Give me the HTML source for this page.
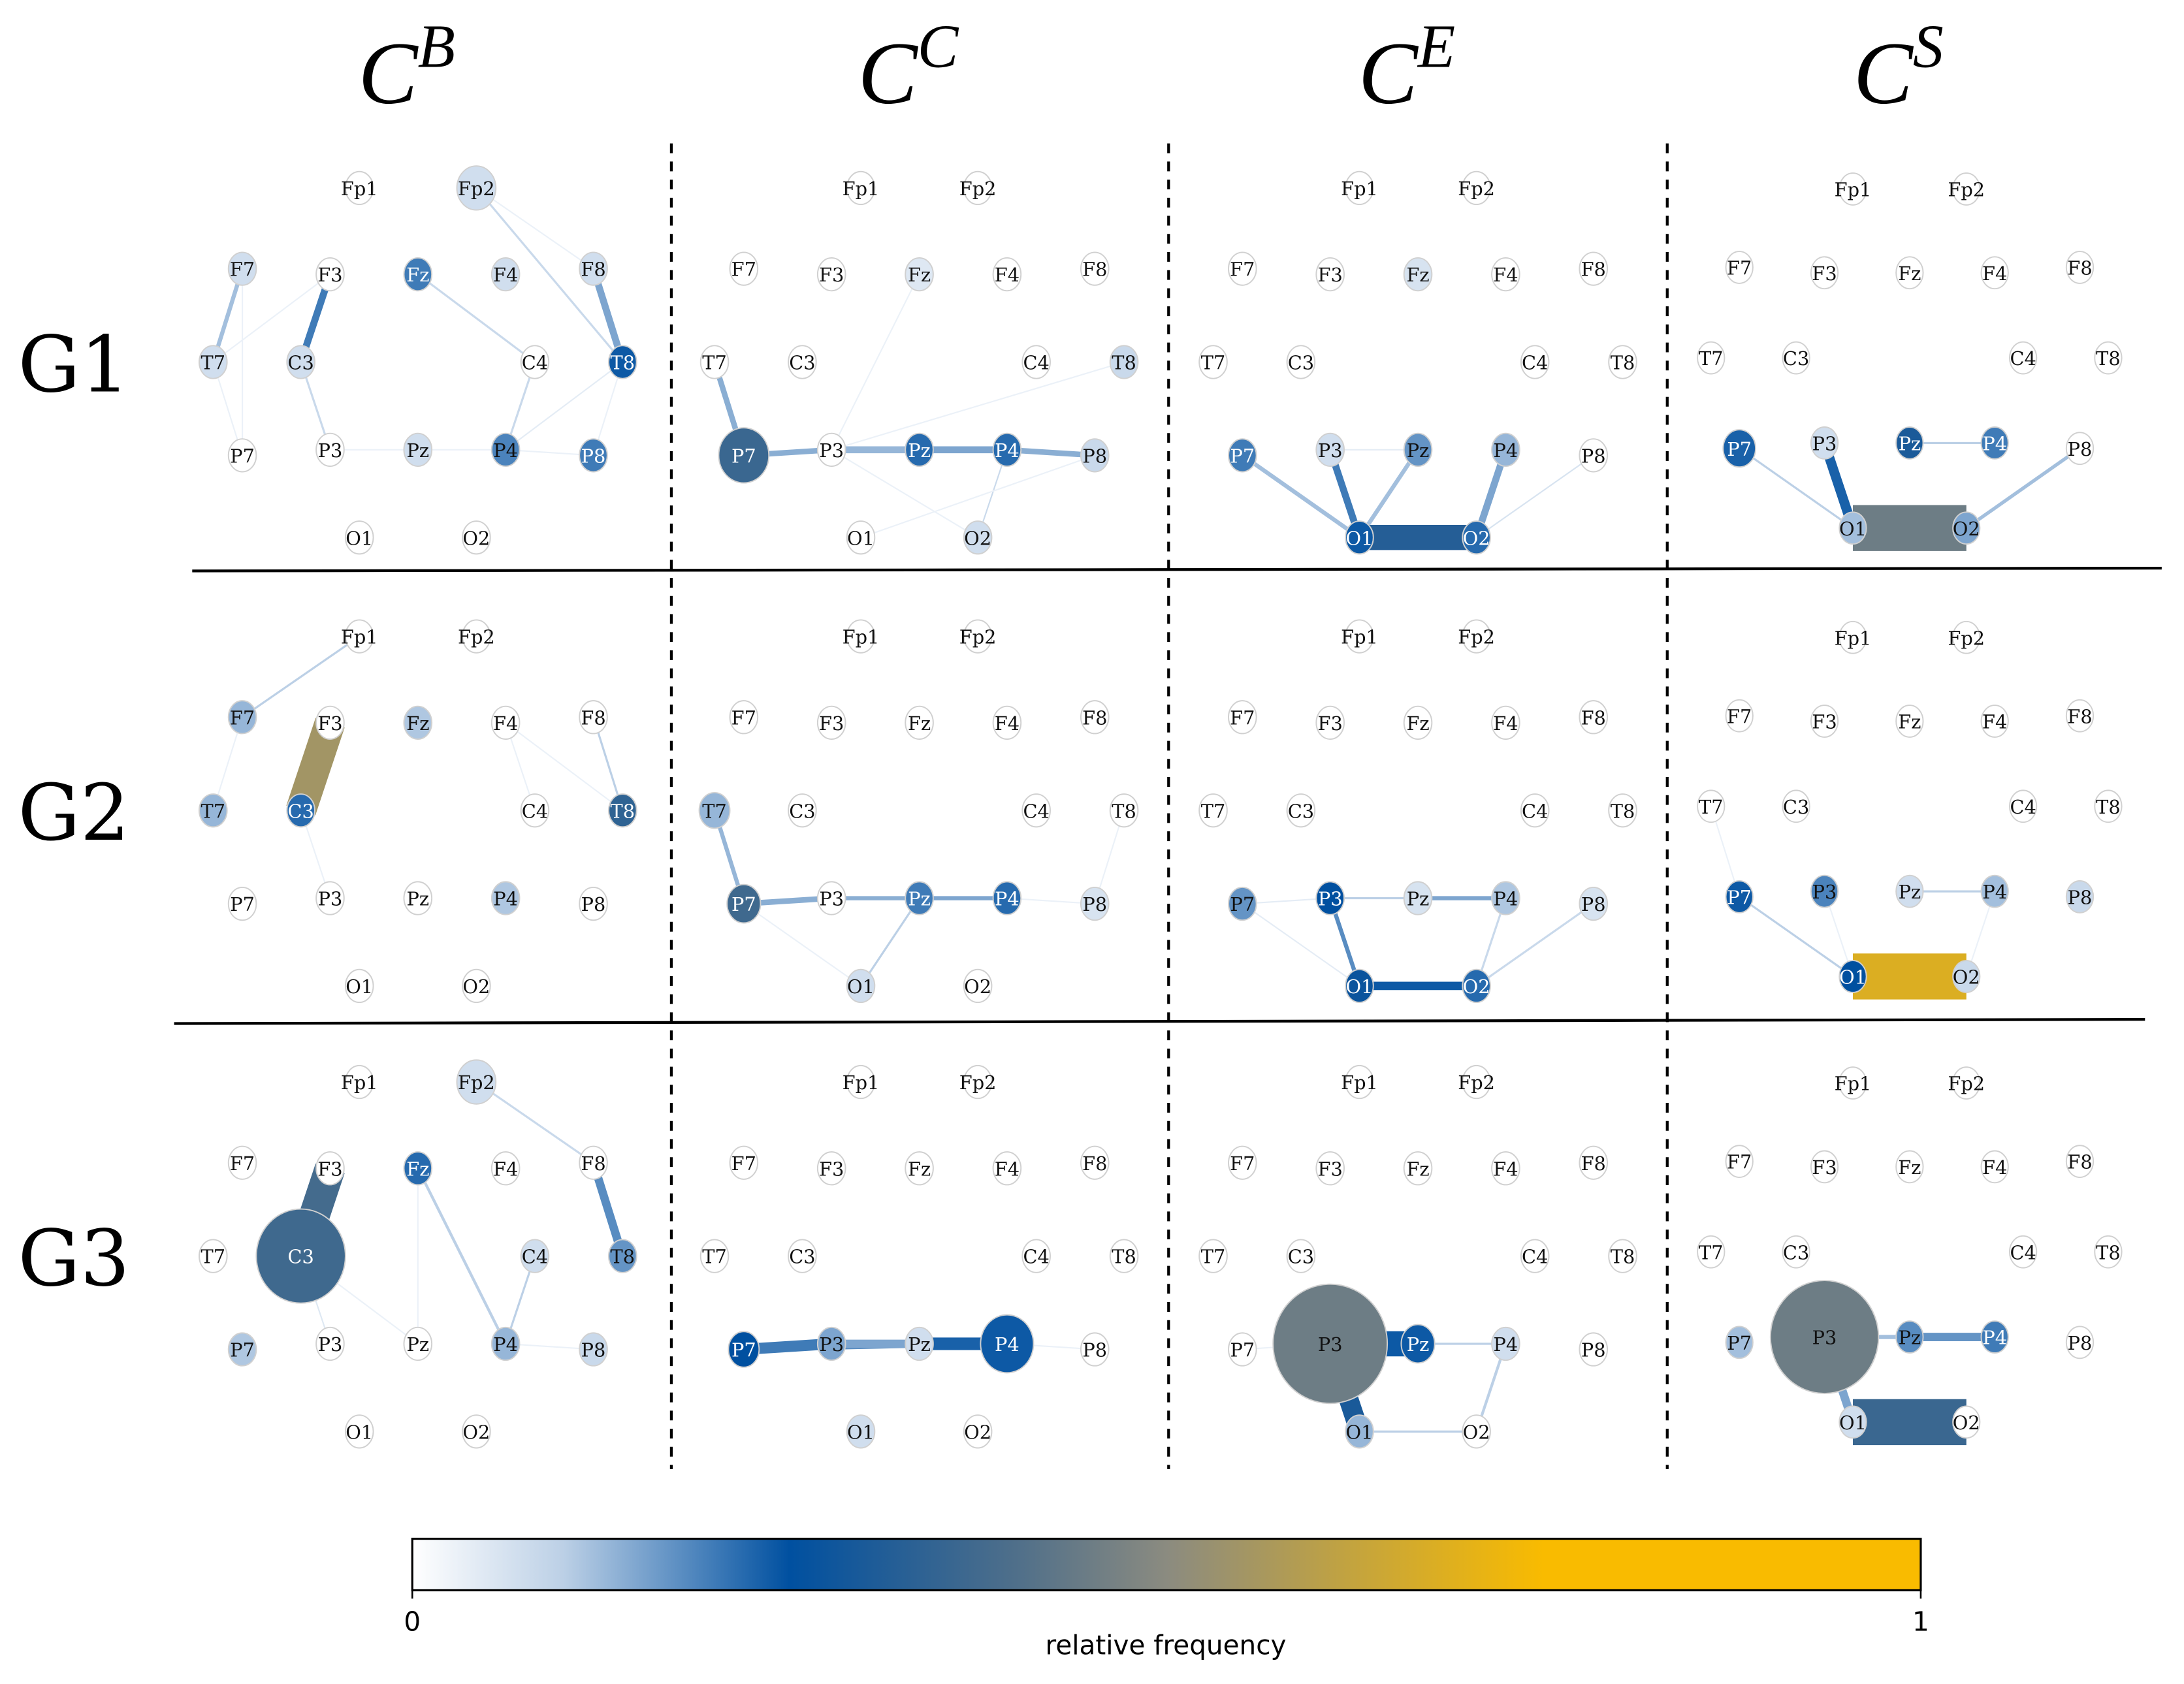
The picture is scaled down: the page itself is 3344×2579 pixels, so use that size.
<!DOCTYPE html>
<html><head><meta charset="utf-8">
<style>
html,body{margin:0;padding:0;background:#fff;}
svg{display:block;}
.nl{font-family:"DejaVu Serif","Liberation Serif",serif;font-size:13.5px;text-anchor:middle;dominant-baseline:central;}
</style></head>
<body>
<svg id="fig" width="3344" height="2579" viewBox="0 0 1568 1209.3" xmlns="http://www.w3.org/2000/svg">
<defs>
<linearGradient id="cmap" x1="0" x2="1" y1="0" y2="0">
<stop offset="0" stop-color="#ffffff"/>
<stop offset="0.1" stop-color="#bcd0e6"/>
<stop offset="0.25" stop-color="#0050a0"/>
<stop offset="0.4" stop-color="#4f6f8a"/>
<stop offset="0.5" stop-color="#8b8b80"/>
<stop offset="0.62" stop-color="#c2a340"/>
<stop offset="0.75" stop-color="#f9bb00"/>
<stop offset="1" stop-color="#f9bb00"/>
</linearGradient>
</defs>
<g id="grid"></g>
<g id="panels"></g>
<g id="cbar"></g>
</svg>
<script>
const NS="http://www.w3.org/2000/svg";
const electrodes=["Fp1","Fp2","F7","F3","Fz","F4","F8","T7","C3","C4","T8","P7","P3","Pz","P4","P8","O1","O2"];
const colTitles=["B","C","E","S"];
const rowTitles=["G1","G2","G3"];
const cbTicks=["0","1"];
const nodesG1B=[["Fp2",0.07,14],["F7",0.07,10],["Fz",0.2,10],["F4",0.07,10],["F8",0.07,10],["T7",0.07,10],["C3",0.07,10],["T8",0.24,10],["Pz",0.07,10],["P4",0.19,10],["P8",0.2,10]];
const nodesG1C=[["P7",0.36,18],["Pz",0.22,10],["P4",0.22,10],["P8",0.08,10],["O2",0.07,10],["T8",0.08,10],["Fz",0.05,10]];
const nodesG1E=[["P7",0.2,10],["P3",0.07,10],["Pz",0.17,10],["P4",0.13,10],["O1",0.24,10],["O2",0.22,10],["Fz",0.06,10]];
const nodesG1S=[["P7",0.23,12],["P3",0.07,10],["Pz",0.3,10],["P4",0.2,10],["O1",0.12,10],["O2",0.15,10]];
const nodesG2B=[["F7",0.13,10],["Fz",0.11,10],["T7",0.13,10],["C3",0.22,10],["T8",0.34,10],["P4",0.11,10]];
const nodesG2C=[["T7",0.13,11],["P7",0.37,12],["Pz",0.2,10],["P4",0.22,10],["P8",0.06,10],["O1",0.07,10]];
const nodesG2E=[["P7",0.17,10],["P3",0.25,10],["Pz",0.06,10],["P4",0.11,10],["P8",0.06,10],["O1",0.27,10],["O2",0.22,10]];
const nodesG2S=[["P7",0.24,10],["P3",0.19,10],["Pz",0.07,10],["P4",0.12,10],["P8",0.08,10],["O1",0.25,10],["O2",0.08,10]];
const nodesG3B=[["Fp2",0.07,14],["Fz",0.22,10],["C3",0.37,32],["C4",0.07,10],["T8",0.17,10],["P7",0.11,10],["P4",0.13,10],["P8",0.08,10]];
const nodesG3C=[["P7",0.25,11],["P3",0.15,10],["Pz",0.07,10],["P4",0.24,19],["O1",0.07,10]];
const nodesG3E=[["P3",0.45,41],["Pz",0.24,12],["P4",0.07,10],["O1",0.13,10]];
const nodesG3S=[["P7",0.12,10],["P3",0.45,40],["Pz",0.18,10],["P4",0.2,10],["O1",0.07,10]];
const edgesG1B=[["F7","T7",0.12,3],["F3","C3",0.2,5],["F8","T8",0.15,5],["Fp2","T8",0.08,1.5],["Fz","C4",0.08,1.5],["C3","P3",0.08,1.5],["C4","P4",0.08,1.5],["T7","F3",0.02,1],["F7","P7",0.02,1],["T7","P7",0.02,1],["P4","T8",0.04,1],["T8","P8",0.02,1],["P3","Pz",0.02,1],["Pz","P4",0.03,1],["P4","P8",0.03,1],["Fp2","F8",0.03,1]];
const edgesG1C=[["T7","P7",0.14,4],["P7","P3",0.14,4],["P3","Pz",0.13,5],["Pz","P4",0.15,5],["P4","P8",0.14,4],["P4","O2",0.08,1],["O1","P8",0.03,1],["P3","O2",0.03,1],["P3","Fz",0.02,1],["P3","T8",0.02,1]];
const edgesG1E=[["P7","O1",0.12,3],["P3","O1",0.2,5],["Pz","O1",0.12,3],["P4","O2",0.15,5],["O1","O2",0.32,18],["P8","O2",0.06,1],["P3","Pz",0.04,1]];
const edgesG1S=[["P3","O1",0.23,7],["P7","O1",0.1,1.5],["Pz","P4",0.1,1.5],["P8","O2",0.12,2.5],["O1","O2",0.45,33]];
const edgesG2B=[["F7","Fp1",0.1,1.5],["F3","C3",0.55,22],["F8","T8",0.1,1.5],["C3","P3",0.03,1],["F4","C4",0.03,1],["F4","T8",0.02,1],["F7","T7",0.02,1]];
const edgesG2C=[["T7","P7",0.13,3],["P7","P3",0.14,4],["P3","Pz",0.14,3],["Pz","P4",0.15,3],["Pz","O1",0.1,1.5],["P7","O1",0.03,1],["P8","T8",0.03,1],["P4","P8",0.03,1]];
const edgesG2E=[["P3","Pz",0.1,1.5],["Pz","P4",0.15,3],["P3","O1",0.18,3],["O1","O2",0.24,6],["O2","P8",0.08,1.5],["P7","O1",0.04,1],["P4","O2",0.08,1.5],["P7","P3",0.04,1]];
const edgesG2S=[["P7","O1",0.1,1.5],["Pz","P4",0.1,1.5],["O1","O2",0.68,33],["P3","O1",0.03,1],["T7","P7",0.03,1],["P4","O2",0.03,1]];
const edgesG3B=[["F3","C3",0.38,22],["Fz","P4",0.1,2],["Fp2","F8",0.08,1.5],["F8","T8",0.18,6],["C4","P4",0.1,1.5],["C3","P3",0.05,1],["Fz","Pz",0.02,1],["C3","Pz",0.02,1],["P4","P8",0.02,1]];
const edgesG3C=[["P7","P3",0.2,8],["P3","Pz",0.15,6],["Pz","P4",0.23,9],["P7","P4",0.18,3],["P4","P8",0.03,1]];
const edgesG3E=[["P3","Pz",0.24,18],["P3","O1",0.3,14],["Pz","P4",0.1,1.5],["P4","O2",0.1,2],["O1","O2",0.1,1.5],["P7","P3",0.02,1]];
const edgesG3S=[["P3","Pz",0.12,3],["Pz","P4",0.17,6],["P3","O1",0.15,6],["O1","O2",0.36,33]];

const nodeSets=[[nodesG1B,nodesG1C,nodesG1E,nodesG1S],[nodesG2B,nodesG2C,nodesG2E,nodesG2S],[nodesG3B,nodesG3C,nodesG3E,nodesG3S]];
const edgeSets=[[edgesG1B,edgesG1C,edgesG1E,edgesG1S],[edgesG2B,edgesG2C,edgesG2E,edgesG2S],[edgesG3B,edgesG3C,edgesG3E,edgesG3S]];

const layout={Fp1:[-42,-125],Fp2:[42,-125],F7:[-126,-67],F3:[-63,-63],Fz:[0,-63],F4:[63,-63],F8:[126,-67],T7:[-147,0],C3:[-84,0],C4:[84,0],T8:[147,0],P7:[-126,67],P3:[-63,63],Pz:[0,63],P4:[63,63],P8:[126,67],O1:[-42,126],O2:[42,126]};
const colCx=[300,660,1018,1371], colScale=[1,1,1,0.97];
const rowCy=[260,582,902], rowDy=[0,0,0,-3];

const stops=[[0,[255,255,255]],[0.1,[188,208,230]],[0.25,[0,80,160]],[0.4,[79,111,138]],[0.5,[139,139,128]],[0.62,[194,163,64]],[0.75,[249,187,0]],[1,[249,187,0]]];
function cmap(v){v=Math.max(0,Math.min(1,v));for(let i=1;i<stops.length;i++){if(v<=stops[i][0]){const a=stops[i-1],b=stops[i];const t=(v-a[0])/(b[0]-a[0]);const c=a[1].map((x,k)=>Math.round(x+(b[1][k]-x)*t));return `rgb(${c[0]},${c[1]},${c[2]})`;}}return "rgb(249,187,0)";}
function lum(v){const m=cmap(v).match(/\d+/g).map(Number);return 0.299*m[0]+0.587*m[1]+0.114*m[2];}
function mk(tag,attrs,parent){const e=document.createElementNS(NS,tag);for(const k in attrs)e.setAttribute(k,attrs[k]);parent.appendChild(e);return e;}
function pos(r,c,n){const p=layout[n];return [colCx[c]+p[0]*colScale[c], rowCy[r]+rowDy[c]+p[1]*colScale[c]];}

const grid=document.getElementById('grid');
colTitles.forEach((t,c)=>{
  const tx=mk('text',{x:colCx[c]-8,y:74,'font-family':'"Liberation Serif","DejaVu Serif",serif','font-style':'italic','font-size':64,'text-anchor':'middle'},grid);
  
  
  tx.textContent='C';
  const sup=mk('tspan',{'font-size':44,dy:-26},tx);sup.textContent=t;
});
rowTitles.forEach((t,r)=>{
  const tx=mk('text',{x:53,y:rowCy[r]+21,'font-family':'"DejaVu Serif","Liberation Serif",serif','font-size':56,'text-anchor':'middle'},grid);
  
  
  tx.textContent=t;
});
[[138,410,1552,408],[125,735,1540,732]].forEach((l,i)=>{
  const e=mk('line',{x1:l[0],y1:l[1],x2:l[2],y2:l[3],stroke:'#000','stroke-width':2},grid);
  
  
});
[482,839,1197].forEach((x,i)=>{
  const e=mk('line',{x1:x,y1:103,x2:x,y2:1055,stroke:'#000','stroke-width':2,'stroke-dasharray':'7,6'},grid);
  
  
});

const panels=document.getElementById('panels');
for(let r=0;r<3;r++)for(let c=0;c<4;c++){
  const g=mk('g',{},panels);
  
  
  const es=edgeSets[r][c].slice().sort((a,b)=>a[3]-b[3]);
  es.forEach(e=>{
    const a=pos(r,c,e[0]),b=pos(r,c,e[1]);
    const ln=mk('line',{x1:a[0],y1:a[1],x2:b[0],y2:b[1],stroke:cmap(Math.max(e[2],0.03)),'stroke-width':e[3],'stroke-linecap':'butt'},g);
    
    
  });
  const nv={};nodeSets[r][c].forEach(n=>nv[n[0]]=n);
  const ordered=electrodes.slice().sort((a,b)=>((nv[a]?nv[a][2]:10)-(nv[b]?nv[b][2]:10)));
  ordered.forEach(name=>{
    const p=pos(r,c,name);const v=nv[name]?nv[name][1]:0;const rad=nv[name]?nv[name][2]:10;
    const el=mk('ellipse',{cx:p[0],cy:p[1],rx:rad*colScale[c],ry:(rad+1.8)*colScale[c],fill:cmap(v),stroke:'#d0d0d0','stroke-width':0.9},g);
    
    
    const t=mk('text',{x:p[0],y:p[1]+0.5,class:'nl',fill:lum(v)<120?'#fff':'#111'},g);
    
    
    t.textContent=name;
  });
}

const cb=document.getElementById('cbar');
const x0=296,x1=1379;
const rect=mk('rect',{x:x0,y:1105,width:x1-x0,height:37,fill:'url(#cmap)',stroke:'#000','stroke-width':1.5},cb);


cbTicks.forEach((t,i)=>{
  const x=x0+(x1-x0)*i/(cbTicks.length-1);
  const tk=mk('line',{x1:x,y1:1142,x2:x,y2:1148,stroke:'#000','stroke-width':1.2},cb);
  
  
  const tx=mk('text',{x:x,y:1171,'font-family':'"DejaVu Sans","Liberation Sans",sans-serif','font-size':19,'text-anchor':'middle'},cb);
  
  
  tx.textContent=t;
});
const lab=mk('text',{x:837,y:1188,'font-family':'"DejaVu Sans","Liberation Sans",sans-serif','font-size':19,'text-anchor':'middle'},cb);


lab.textContent='relative frequency';
</script>
</body></html>
